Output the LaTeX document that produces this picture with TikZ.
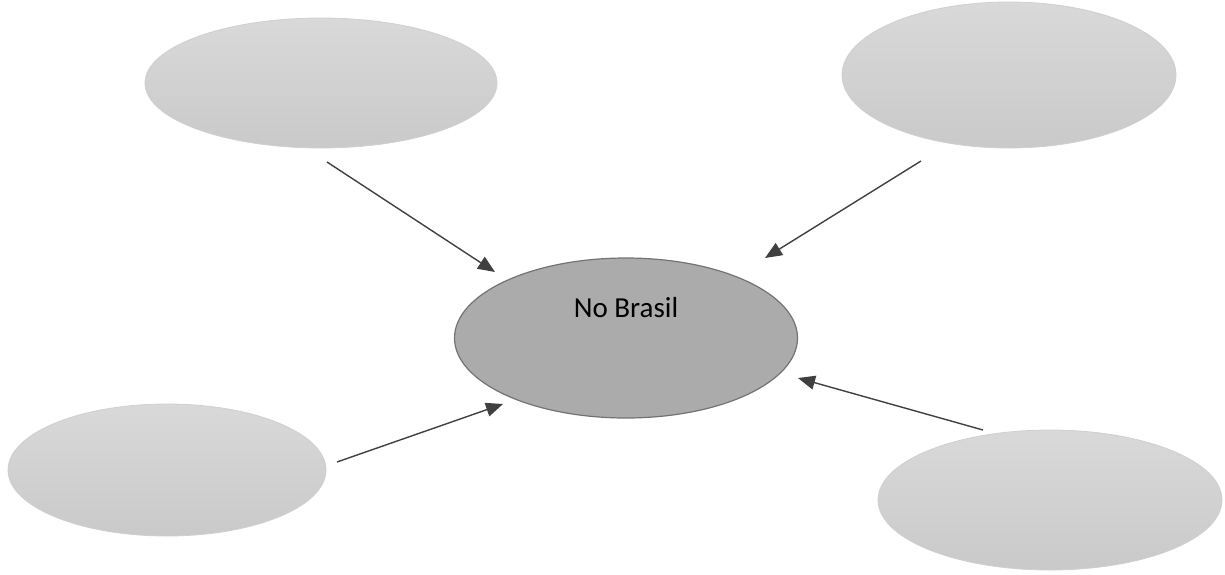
\documentclass[tikz,border=0pt]{standalone}
\usepackage{fontspec}
\setmainfont{Carlito}
\usetikzlibrary{shapes.geometric,arrows.meta}

\tikzset{
  bubble/.style={ellipse,draw=gray!38,line width=0.8pt,top color=gray!30,bottom color=gray!42,inner sep=0pt},
  brasil/.style={ellipse,draw=black!55,line width=1.2pt,fill=black!33,inner sep=0pt},
  pointer/.style={-{Triangle[length=17pt,width=14pt]},draw=black!75,line width=1.4pt}
}

\begin{document}
\begin{tikzpicture}[x=1pt,y=-1pt]
   \useasboundingbox (0,0) rectangle (1225,574);
   \node[bubble] (tl) [minimum width=352pt,minimum height=130pt] at (321,83) {};
   \node[bubble] (tr) [minimum width=334pt,minimum height=146pt] at (1009,75) {};
   \node[bubble] (bl) [minimum width=318pt,minimum height=132pt] at (167,470) {};
   \node[bubble] (br) [minimum width=344pt,minimum height=140pt] at (1050,500) {};
   \node[brasil] (brasil) [minimum width=343pt,minimum height=160pt] at (626,338) {};
   \node (brasiltxt) at (626,308) {\fontsize{29}{34}\selectfont No Brasil};
   % free ends of the arrows
   \coordinate (tlout) at (327,162);
   \coordinate (tlin) at (495,272);
   \coordinate (trout) at (921,161);
   \coordinate (trin) at (765,258);
   \coordinate (blout) at (337,462);
   \coordinate (blin) at (503,404);
   \coordinate (brout) at (983,430);
   \coordinate (brin) at (798,378);
   \path
        (tlout) edge[pointer] (tlin)
        (trout) edge[pointer] (trin)
        (blout) edge[pointer] (blin)
        (brout) edge[pointer] (brin)
        ;
\end{tikzpicture}
\end{document}
